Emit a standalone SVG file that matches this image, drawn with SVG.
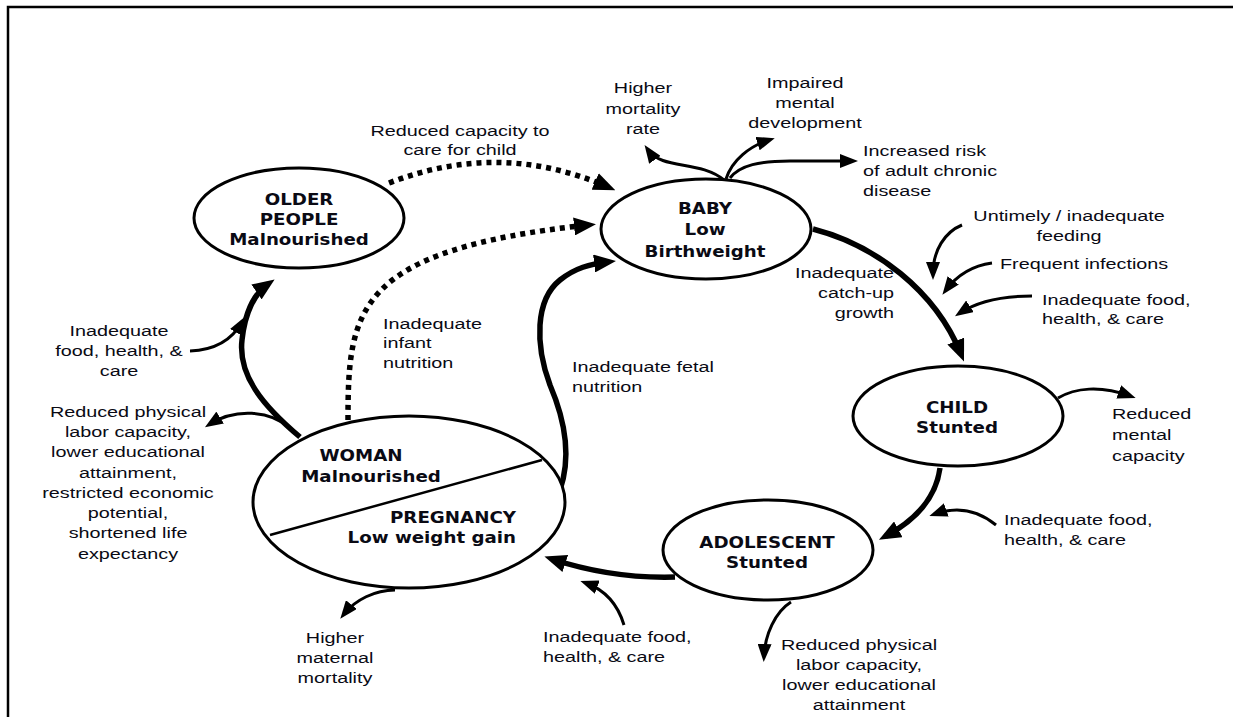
<svg xmlns="http://www.w3.org/2000/svg" width="1233" height="717" viewBox="0 0 1233 717">
<style>
.frame{fill:none;stroke:#000;stroke-width:2.5}
.node{fill:#fff;stroke:#000;stroke-width:3}
.nt{font-family:"DejaVu Sans",Verdana,sans-serif;font-weight:bold;font-size:16px;fill:#0a0a14}
.lt{font-family:"Liberation Sans",Arial,sans-serif;font-size:15px;fill:#0a0a14}
.thin{fill:none;stroke:#000;stroke-width:3;marker-end:url(#ah)}
.thick{fill:none;stroke:#000;stroke-width:5.5;marker-end:url(#ahL)}
.dot{fill:none;stroke:#000;stroke-width:5.5;stroke-dasharray:5 5;marker-end:url(#ahL)}
</style>
<defs>
<marker id="ah" markerUnits="userSpaceOnUse" markerWidth="18" markerHeight="14" refX="12" refY="7" orient="auto" viewBox="0 0 18 14">
<path d="M0,0 L18,7 L0,14 z" fill="#000"/>
</marker>
<marker id="ahL" markerUnits="userSpaceOnUse" markerWidth="22" markerHeight="18" refX="14" refY="9" orient="auto" viewBox="0 0 22 18">
<path d="M0,0 L22,9 L0,18 z" fill="#000"/>
</marker>
</defs>
<rect width="1233" height="717" fill="#fff"/>
<path class="frame" d="M8,717 L8,7 L1233,7"/>

<g id="connectors">
<path class="dot" d="M389,183 Q500,140 608,187"/>
<path class="dot" d="M348,420 C348,310 355,250 588,225"/>
<path class="thick" d="M300,437 C262,405 238,375 242,340 C245,312 255,293 268,284"/>
<path class="thin" d="M190,351 C215,350 232,340 242,322"/>
<path class="thin" d="M290,428 C270,410 235,408 210,424"/>
<path class="thick" d="M560,490 C572,455 565,420 550,385 C535,345 535,300 560,280 C575,268 590,264 608,262"/>
<path class="thick" d="M813,229 C875,245 935,290 961,354"/>
<path class="thin" d="M962,225 C945,232 933,250 933,274"/>
<path class="thin" d="M992,263 C970,266 955,278 946,290"/>
<path class="thin" d="M1032,296 C1000,296 975,303 960,313"/>
<path class="thin" d="M724,180 C700,160 662,170 648,150"/>
<path class="thin" d="M726,179 C732,160 750,146 769,140"/>
<path class="thin" d="M730,178 C740,165 760,161 790,161 L852,161"/>
<path class="thin" d="M1058,398 C1075,388 1100,385 1130,396"/>
<path class="thick" d="M940,468 C937,490 925,515 886,536"/>
<path class="thin" d="M996,525 C980,512 960,505 935,514"/>
<path class="thin" d="M791,602 C775,612 765,635 764,656"/>
<path class="thick" d="M675,577 C640,578 600,575 552,559"/>
<path class="thin" d="M624,625 C618,605 605,590 586,583"/>
<path class="thin" d="M395,590 C375,590 355,600 344,614"/>
</g>

<g id="older-people">
<ellipse class="node" cx="299" cy="218" rx="105" ry="50"/>
<g transform="translate(299,0) scale(1.14,1)"><text class="nt" text-anchor="middle"><tspan x="0" y="205">OLDER</tspan><tspan x="0" y="225">PEOPLE</tspan><tspan x="0" y="245">Malnourished</tspan></text></g>
</g>

<g id="baby">
<ellipse class="node" cx="706" cy="229" rx="105" ry="50"/>
<g transform="translate(705,0) scale(1.14,1)"><text class="nt" text-anchor="middle"><tspan x="0" y="214">BABY</tspan><tspan x="0" y="235.5">Low</tspan><tspan x="0" y="257">Birthweight</tspan></text></g>
</g>

<g id="child">
<ellipse class="node" cx="958" cy="416" rx="105" ry="50"/>
<g transform="translate(957,0) scale(1.14,1)"><text class="nt" text-anchor="middle"><tspan x="0" y="413">CHILD</tspan><tspan x="0" y="433">Stunted</tspan></text></g>
</g>

<g id="adolescent">
<ellipse class="node" cx="768" cy="550" rx="105" ry="50"/>
<g transform="translate(767,0) scale(1.14,1)"><text class="nt" text-anchor="middle"><tspan x="0" y="548">ADOLESCENT</tspan><tspan x="0" y="568">Stunted</tspan></text></g>
</g>

<g id="woman-pregnancy">
<ellipse class="node" cx="409" cy="502" rx="156" ry="86"/>
<line x1="270" y1="535" x2="542" y2="460" stroke="#000" stroke-width="2.5"/>
<g transform="translate(361,0) scale(1.14,1)"><text class="nt" text-anchor="middle" x="0" y="461">WOMAN</text></g>
<g transform="translate(371,0) scale(1.14,1)"><text class="nt" text-anchor="middle" x="0" y="482">Malnourished</text></g>
<g transform="translate(516,0) scale(1.14,1)"><text class="nt" text-anchor="end"><tspan x="0" y="523">PREGNANCY</tspan><tspan x="0" y="543">Low weight gain</tspan></text></g>
</g>

<g id="labels">
<g transform="translate(460,0) scale(1.32,1)"><text class="lt" text-anchor="middle"><tspan x="0" y="136">Reduced capacity to</tspan><tspan x="0" y="155">care for child</tspan></text></g>
<g transform="translate(643,0) scale(1.32,1)"><text class="lt" text-anchor="middle"><tspan x="0" y="93">Higher</tspan><tspan x="0" y="114">mortality</tspan><tspan x="0" y="134">rate</tspan></text></g>
<g transform="translate(805,0) scale(1.32,1)"><text class="lt" text-anchor="middle"><tspan x="0" y="88">Impaired</tspan><tspan x="0" y="108">mental</tspan><tspan x="0" y="128">development</tspan></text></g>
<g transform="translate(863,0) scale(1.32,1)"><text class="lt"><tspan x="0" y="156">Increased risk</tspan><tspan x="0" y="176">of adult chronic</tspan><tspan x="0" y="196">disease</tspan></text></g>
<g transform="translate(1069,0) scale(1.32,1)"><text class="lt" text-anchor="middle"><tspan x="0" y="221">Untimely / inadequate</tspan><tspan x="0" y="241">feeding</tspan></text></g>
<g transform="translate(1000,0) scale(1.32,1)"><text class="lt" x="0" y="269">Frequent infections</text></g>
<g transform="translate(1042,0) scale(1.32,1)"><text class="lt"><tspan x="0" y="305">Inadequate food,</tspan><tspan x="0" y="324">health, &amp; care</tspan></text></g>
<g transform="translate(894,0) scale(1.32,1)"><text class="lt" text-anchor="end"><tspan x="0" y="278">Inadequate</tspan><tspan x="0" y="298">catch-up</tspan><tspan x="0" y="318">growth</tspan></text></g>
<g transform="translate(572,0) scale(1.32,1)"><text class="lt"><tspan x="0" y="372">Inadequate fetal</tspan><tspan x="0" y="392">nutrition</tspan></text></g>
<g transform="translate(383,0) scale(1.32,1)"><text class="lt"><tspan x="0" y="329">Inadequate</tspan><tspan x="0" y="348">infant</tspan><tspan x="0" y="368">nutrition</tspan></text></g>
<g transform="translate(119,0) scale(1.32,1)"><text class="lt" text-anchor="middle"><tspan x="0" y="336">Inadequate</tspan><tspan x="0" y="356">food, health, &amp;</tspan><tspan x="0" y="376">care</tspan></text></g>
<g transform="translate(128,0) scale(1.32,1)"><text class="lt" text-anchor="middle"><tspan x="0" y="417">Reduced physical</tspan><tspan x="0" y="437">labor capacity,</tspan><tspan x="0" y="457">lower educational</tspan><tspan x="0" y="478">attainment,</tspan><tspan x="0" y="498">restricted economic</tspan><tspan x="0" y="518">potential,</tspan><tspan x="0" y="538">shortened life</tspan><tspan x="0" y="559">expectancy</tspan></text></g>
<g transform="translate(1112,0) scale(1.32,1)"><text class="lt"><tspan x="0" y="419">Reduced</tspan><tspan x="0" y="440">mental</tspan><tspan x="0" y="461">capacity</tspan></text></g>
<g transform="translate(1004,0) scale(1.32,1)"><text class="lt"><tspan x="0" y="525">Inadequate food,</tspan><tspan x="0" y="545">health, &amp; care</tspan></text></g>
<g transform="translate(335,0) scale(1.32,1)"><text class="lt" text-anchor="middle"><tspan x="0" y="643">Higher</tspan><tspan x="0" y="663">maternal</tspan><tspan x="0" y="683">mortality</tspan></text></g>
<g transform="translate(543,0) scale(1.32,1)"><text class="lt"><tspan x="0" y="642">Inadequate food,</tspan><tspan x="0" y="662">health, &amp; care</tspan></text></g>
<g transform="translate(859,0) scale(1.32,1)"><text class="lt" text-anchor="middle"><tspan x="0" y="650">Reduced physical</tspan><tspan x="0" y="670">labor capacity,</tspan><tspan x="0" y="690">lower educational</tspan><tspan x="0" y="710">attainment</tspan></text></g>
</g>
</svg>
